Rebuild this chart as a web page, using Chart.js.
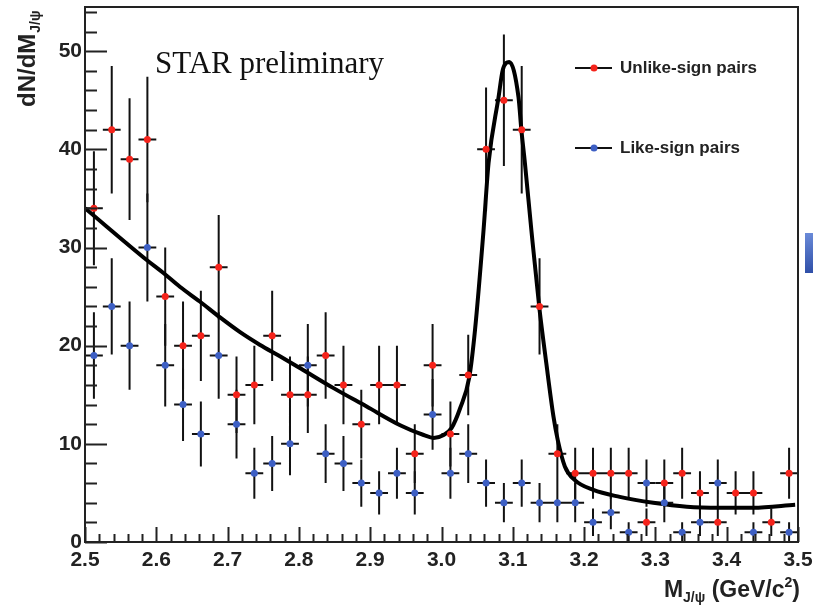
<!DOCTYPE html>
<html>
<head>
<meta charset="utf-8">
<script src="https://cdn.jsdelivr.net/npm/chart.js@4.4.1/dist/chart.umd.min.js"></script>
<style>
  html, body { margin: 0; padding: 0; background: #fff; }
  #wrap { position: relative; width: 813px; height: 613px; }
  #edge { position: absolute; left: 805px; top: 233px; width: 8px; height: 40px; background: linear-gradient(#6a8ad8, #2f4fa8); }
</style>
</head>
<body>
<div id="wrap">
  <canvas id="myChart" width="813" height="613"></canvas>
  <div id="edge"></div>
</div>
<script>
// bin centres, GeV/c^2 (bin width 0.025)
const massBins = [
  2.5125, 2.5375, 2.5625, 2.5875, 2.6125, 2.6375, 2.6625, 2.6875, 2.7125, 2.7375,
  2.7625, 2.7875, 2.8125, 2.8375, 2.8625, 2.8875, 2.9125, 2.9375, 2.9625, 2.9875,
  3.0125, 3.0375, 3.0625, 3.0875, 3.1125, 3.1375, 3.1625, 3.1875, 3.2125, 3.2375,
  3.2625, 3.2875, 3.3125, 3.3375, 3.3625, 3.3875, 3.4125, 3.4375, 3.4625, 3.4875
];

const unlikeCounts = [
  34, 42, 39, 41, 25, 20, 21, 28, 15, 16,
  21, 15, 15, 19, 16, 12, 16, 16, 9, 18,
  11, 17, 40, 45, 42, 24, 9, 7, 7, 7,
  7, 2, 6, 7, 5, 2, 5, 5, 2, 7
];
const unlikeErrors = [
  5.8, 6.5, 6.2, 6.4, 5.0, 4.5, 4.6, 5.3, 3.9, 4.0,
  4.6, 3.9, 3.9, 4.4, 4.0, 3.5, 4.0, 4.0, 3.0, 4.2,
  3.3, 4.1, 6.3, 6.7, 6.5, 4.9, 3.0, 2.6, 2.6, 2.6,
  2.6, 1.4, 2.4, 2.6, 2.2, 1.4, 2.2, 2.2, 1.4, 2.6
];

const likeCounts = [
  19, 24, 20, 30, 18, 14, 11, 19, 12, 7,
  8, 10, 18, 9, 8, 6, 5, 7, 5, 13,
  7, 9, 6, 4, 6, 4, 4, 4, 2, 3,
  1, 6, 4, 1, 2, 6, null, 1, null, 1
];
const likeErrors = [
  4.4, 4.9, 4.5, 5.5, 4.2, 3.7, 3.3, 4.4, 3.5, 2.6,
  2.8, 3.2, 4.2, 3.0, 2.8, 2.4, 2.2, 2.6, 2.2, 3.6,
  2.6, 3.0, 2.4, 2.0, 2.4, 2.0, 2.0, 2.0, 1.4, 1.7,
  1.0, 2.4, 2.0, 1.0, 1.4, 2.4, null, 1.0, null, 1.0
];

// fit curve
const fitMass = [
  2.500, 2.587, 2.610, 2.633, 2.661, 2.689, 2.717, 2.745, 2.774, 2.802,
  2.848, 2.895, 2.942, 2.975, 2.989, 3.003, 3.014, 3.026, 3.039, 3.047,
  3.059, 3.066, 3.080, 3.086, 3.095, 3.108, 3.112, 3.117, 3.126, 3.137,
  3.147, 3.157, 3.163, 3.173, 3.187, 3.213, 3.250, 3.297, 3.344, 3.391,
  3.437, 3.496
];
const fitValues = [
  34.0, 28.7, 27.4, 26.0, 24.5, 22.9, 21.4, 20.1, 18.9, 17.7,
  15.7, 13.8, 11.9, 10.9, 10.6, 10.9, 11.6, 13.6, 16.8, 21.6,
  31.8, 38.6, 45.3, 48.1, 48.9, 45.3, 42.0, 38.6, 31.8, 24.0,
  18.2, 12.8, 10.4, 7.7, 6.3, 5.3, 4.6, 4.0, 3.6, 3.5,
  3.5, 3.8
];

const yTickLabels = [0, 10, 20, 30, 40, 50];

const RED = '#f5231b';
const BLUE = '#3d5fc4';
const FONT = '"Liberation Sans", Arial, Helvetica, sans-serif';
const binHalf = 0.0125;

function toPoints(xs, ys) {
  const pts = [];
  xs.forEach(function(x, i) {
    if (ys[i] !== null) pts.push({ x: x, y: ys[i] });
  });
  return pts;
}

function drawErrors(ctx, xs, ys, errs, sx, sy) {
  ctx.beginPath();
  for (let i = 0; i < xs.length; i++) {
    if (ys[i] === null) continue;
    const px = sx.getPixelForValue(xs[i]);
    const py = sy.getPixelForValue(ys[i]);
    ctx.moveTo(sx.getPixelForValue(xs[i] - binHalf), py);
    ctx.lineTo(sx.getPixelForValue(xs[i] + binHalf), py);
    ctx.moveTo(px, sy.getPixelForValue(ys[i] - errs[i]));
    ctx.lineTo(px, sy.getPixelForValue(ys[i] + errs[i]));
  }
  ctx.stroke();
}

const decorations = {
  id: 'decorations',
  beforeDatasetsDraw(chart) {
    const ctx = chart.ctx;
    const sx = chart.scales.x, sy = chart.scales.y;
    ctx.save();
    ctx.strokeStyle = '#111';
    ctx.lineWidth = 2;
    drawErrors(ctx, massBins, likeCounts, likeErrors, sx, sy);
    drawErrors(ctx, massBins, unlikeCounts, unlikeErrors, sx, sy);
    ctx.restore();
  },
  afterDraw(chart) {
    const ctx = chart.ctx;
    const a = chart.chartArea;
    const sx = chart.scales.x, sy = chart.scales.y;
    ctx.save();

    // frame
    ctx.strokeStyle = '#222';
    ctx.lineWidth = 2;
    ctx.strokeRect(a.left, a.top, a.right - a.left, a.bottom - a.top);

    // inward ticks
    ctx.beginPath();
    for (let v = 0; v <= 54; v += 2) {
      const py = Math.round(sy.getPixelForValue(v)) + 0.5;
      const len = v % 10 === 0 ? 22 : 12;
      ctx.moveTo(a.left, py);
      ctx.lineTo(a.left + len, py);
    }
    for (let i = 0; i <= 50; i++) {
      const px = Math.round(sx.getPixelForValue(2.5 + i * 0.02)) + 0.5;
      const len = i % 5 === 0 ? 15 : 8;
      ctx.moveTo(px, a.bottom);
      ctx.lineTo(px, a.bottom - len);
    }
    ctx.stroke();

    // STAR preliminary
    ctx.fillStyle = '#111';
    ctx.font = '31px "Liberation Serif", "Times New Roman", serif';
    ctx.textBaseline = 'alphabetic';
    ctx.textAlign = 'left';
    ctx.fillText('STAR preliminary', 155, 73);

    // legend
    const legendRows = [
      { label: 'Unlike-sign pairs', color: RED, y: 68 },
      { label: 'Like-sign pairs', color: BLUE, y: 148 }
    ];
    legendRows.forEach(function(row) {
      ctx.strokeStyle = '#111';
      ctx.lineWidth = 2;
      ctx.beginPath();
      ctx.moveTo(575, row.y);
      ctx.lineTo(612, row.y);
      ctx.stroke();
      ctx.fillStyle = row.color;
      ctx.beginPath();
      ctx.arc(594, row.y, 3.5, 0, Math.PI * 2);
      ctx.fill();
      ctx.fillStyle = '#222';
      ctx.font = 'bold 17px ' + FONT;
      ctx.textBaseline = 'middle';
      ctx.fillText(row.label, 620, row.y);
    });

    // y title
    ctx.save();
    ctx.translate(35, 107);
    ctx.rotate(-Math.PI / 2);
    ctx.fillStyle = '#222';
    ctx.textBaseline = 'alphabetic';
    ctx.font = 'bold 24px ' + FONT;
    ctx.fillText('dN/dM', 0, 0);
    const wy = ctx.measureText('dN/dM').width;
    ctx.font = 'bold 14px ' + FONT;
    ctx.fillText('J/\u03c8', wy + 1, 5);
    ctx.restore();

    // x title
    const parts = [
      { t: 'M', f: 'bold 23px ' + FONT, dy: 0 },
      { t: 'J/\u03c8', f: 'bold 14px ' + FONT, dy: 5 },
      { t: ' (GeV/c', f: 'bold 23px ' + FONT, dy: 0 },
      { t: '2', f: 'bold 14px ' + FONT, dy: -10 },
      { t: ')', f: 'bold 23px ' + FONT, dy: 0 }
    ];
    let total = 0;
    parts.forEach(function(p) { ctx.font = p.f; p.w = ctx.measureText(p.t).width; total += p.w; });
    let xx = 800 - total;
    ctx.fillStyle = '#222';
    ctx.textBaseline = 'alphabetic';
    parts.forEach(function(p) { ctx.font = p.f; ctx.fillText(p.t, xx, 597 + p.dy); xx += p.w; });

    ctx.restore();
  }
};

const ctx = document.querySelector('#myChart').getContext('2d');

// eslint-disable-next-line no-undef
const chart = new Chart(ctx, {
  type: 'scatter',
  data: {
    datasets: [{
      label: 'Unlike-sign pairs',
      data: toPoints(massBins, unlikeCounts),
      backgroundColor: RED,
      borderWidth: 0,
      pointRadius: 3.5,
    },
    {
      label: 'Like-sign pairs',
      data: toPoints(massBins, likeCounts),
      backgroundColor: BLUE,
      borderWidth: 0,
      pointRadius: 3.5,
    },
    {
      type: 'line',
      label: 'fit',
      data: toPoints(fitMass, fitValues),
      borderColor: '#000',
      borderWidth: 4,
      pointRadius: 0,
      fill: false,
      cubicInterpolationMode: 'monotone',
    }]
  },
  options: {
    responsive: false,
    animation: false,
    devicePixelRatio: 1,
    layout: { padding: { left: 0, top: 7, right: 15, bottom: 0 } },
    plugins: {
      legend: { display: false },
      tooltip: { enabled: false },
    },
    scales: {
      x: {
        type: 'linear',
        min: 2.5,
        max: 3.5,
        grid: { display: false, drawTicks: false },
        border: { display: false },
        ticks: {
          stepSize: 0.1,
          maxRotation: 0,
          padding: 6,
          color: '#222',
          font: { family: FONT, size: 21, weight: 'bold' },
        },
        afterFit: function(scale) {
          scale.height = 71;
          scale.paddingLeft = 0;
          scale.paddingRight = 0;
        },
      },
      y: {
        min: 0,
        max: 54.5,
        grid: { display: false, drawTicks: false },
        border: { display: false },
        ticks: {
          stepSize: 10,
          padding: 3,
          color: '#222',
          font: { family: FONT, size: 21, weight: 'bold' },
        },
        afterBuildTicks: function(scale) {
          scale.ticks = yTickLabels.map(function(v) { return { value: v }; });
        },
        afterFit: function(scale) {
          scale.width = 85;
          scale.paddingTop = 0;
          scale.paddingBottom = 0;
        },
      }
    }
  },
  plugins: [decorations],
});
</script>
</body>
</html>
